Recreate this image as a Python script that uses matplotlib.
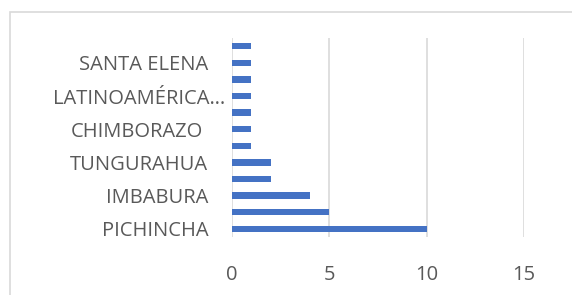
import matplotlib.pyplot as plt
from matplotlib.patches import Rectangle
from matplotlib.transforms import ScaledTranslation

# categories from bottom to top (hidden labels left blank)
provinces = ['PICHINCHA', '', 'IMBABURA', '', 'TUNGURAHUA', '', 'CHIMBORAZO', '',
             'LATINOAMÉRICA…', '', 'SANTA ELENA', '']
counts = [10, 5, 4, 2, 2, 1, 1, 1, 1, 1, 1, 1]
xticks = [0, 5, 10, 15]

plt.rcParams['font.family'] = ['Open Sans', 'DejaVu Sans']

fig = plt.figure(figsize=(5.72, 2.95), dpi=100)
ax = fig.add_axes([232/572, 1-237/295, 292/572, 199/295])

pos = list(range(len(counts)))
ax.barh(pos, counts, height=0.38, color='#4472C4', zorder=3)

ax.set_xlim(0, 15)
ax.set_ylim(-0.5, len(counts)-0.5)
ax.set_xticks(xticks)
ax.set_xticklabels([str(t) for t in xticks])
ax.set_yticks(pos)
ax.set_yticklabels(provinces)
ax.tick_params(axis='both', length=0, labelsize=14.5, labelcolor='#595959')
ax.tick_params(axis='x', pad=20)
ax.tick_params(axis='y', pad=17)
ax.grid(axis='x', color='#d9d9d9', linewidth=1.2, zorder=0)
for s in ax.spines.values():
    s.set_visible(False)

# small per-label shifts (Excel alignment quirks)
shifts = {'CHIMBORAZO': -5, 'LATINOAMÉRICA…': 17}
for lab in ax.get_yticklabels():
    dx = shifts.get(lab.get_text(), 0)
    if dx:
        lab.set_transform(lab.get_transform() + ScaledTranslation(dx/100, 0, fig.dpi_scale_trans))

# chart border, cut off at right and bottom
fig.patches.append(Rectangle((10/572, -0.1), 1.0, 1.1-12/295, transform=fig.transFigure,
                             fill=False, edgecolor='#d9d9d9', linewidth=1.2))

fig.savefig('out.png', dpi=100)
